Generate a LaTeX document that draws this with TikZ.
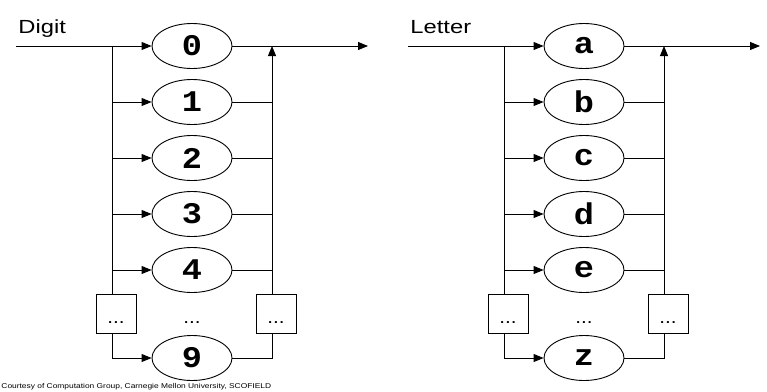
\documentclass[tikz,border=0pt]{standalone}
\usepackage{fontspec}
\setmainfont{Liberation Sans}
\setmonofont{Liberation Mono}
\usetikzlibrary{shapes.geometric,arrows.meta}

\newcommand\SynDiag[3]{%
  \node[lbl] (#1lbl) at (18,33) {\scalebox{1.25}[1]{#2}};
  \coordinate (#1in) at (16,46);
  \coordinate (#1out) at (368,46);
  \coordinate (#1lt) at (112,46);
  \coordinate (#1rt) at (272,46);
  \foreach \t/\n/\y in {#3} {\node[term] (#1\n) at (192,\y) {\scalebox{1.12}[1]{\t}};}
  \node[dotbox] (#1bl) at (116,313.5) {};
  \node[dotbox] (#1br) at (276,313.5) {};
  \node[dots] (#1dl) at (116,323) {\scalebox{1.15}[1]{...}};
  \node[dots] (#1dm) at (192,323) {\scalebox{1.15}[1]{...}};
  \node[dots] (#1dr) at (276,323) {\scalebox{1.15}[1]{...}};
  % entry and exit
  \draw[arr] (#1in) -- (#1r0);
  \draw[arr] (#1r0) -- (#1out);
  % left rail
  \draw (#1lt) -- (#1lt |- #1bl.north);
  \foreach \n in {r1,r2,r3,r4} {\draw[arr] (#1lt |- #1\n) -- (#1\n);}
  \draw[arr] (#1lt |- #1bl.south) -- (#1lt |- #1r9) -- (#1r9);
  % right rail
  \foreach \n in {r1,r2,r3,r4} {\draw (#1\n) -- (#1rt |- #1\n);}
  \draw (#1r9) -- (#1rt |- #1r9) -- (#1rt |- #1br.south);
  \draw[arr] (#1rt |- #1br.north) -- (#1rt);
}

\begin{document}
\begin{tikzpicture}[x=1pt,y=-1pt,line width=0.9pt,
  term/.style={draw,ellipse,minimum width=80pt,minimum height=45pt,inner sep=0pt,
    font=\fontsize{30}{30}\selectfont\ttfamily\bfseries},
  dotbox/.style={draw,minimum width=40pt,minimum height=39pt,inner sep=0pt},
  dots/.style={anchor=base,inner sep=0pt,font=\fontsize{18}{18}\selectfont},
  arr/.style={-{Triangle[length=10pt,width=8pt]}},
  lbl/.style={anchor=base west,inner sep=0pt,font=\fontsize{19}{19}\selectfont}]
\useasboundingbox (0,0) rectangle (767,391);
\SynDiag{d}{Digit}{0/r0/46,1/r1/102,2/r2/158,3/r3/214,4/r4/270,9/r9/358}
\begin{scope}[xshift=392pt]
\SynDiag{l}{Letter}{a/r0/46,b/r1/102,c/r2/158,d/r3/214,e/r4/270,z/r9/358}
\end{scope}
\node[anchor=south west,inner sep=0pt,font=\fontsize{7}{7}\selectfont] (cap) at (1,390)
  {\scalebox{1.2}[1]{Courtesy of Computation Group, Carnegie Mellon University, SCOFIELD}};
\end{tikzpicture}
\end{document}
